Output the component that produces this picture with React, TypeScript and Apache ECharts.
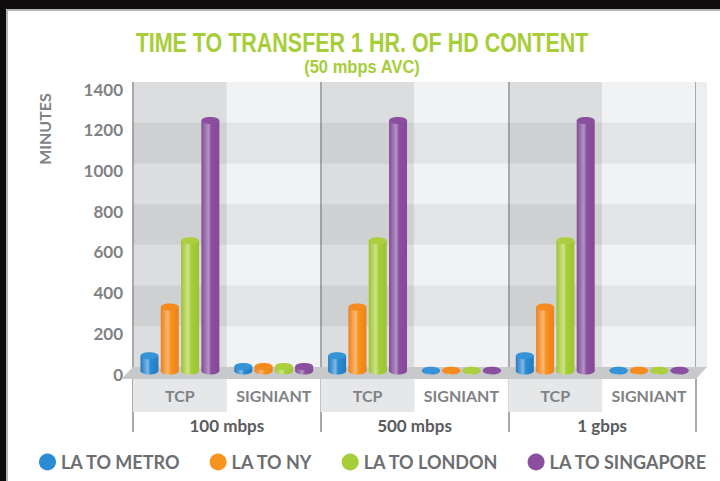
import React, { useEffect, useRef } from "react";
import * as echarts from "echarts";

const groups = ["100 mbps", "500 mbps", "1 gbps"];
const methods = ["TCP", "SIGNIANT"];
const subCategories = groups.flatMap(() => methods);
const yTicks = [0, 200, 400, 600, 800, 1000, 1200, 1400];

const seriesNames = ["LA TO METRO", "LA TO NY", "LA TO LONDON", "LA TO SINGAPORE"];
const laToMetro = [75, 22, 75, 4, 75, 4];
const laToNY = [315, 22, 315, 4, 315, 4];
const laToLondon = [640, 22, 640, 4, 640, 4];
const laToSingapore = [1230, 22, 1230, 4, 1230, 4];
const seriesValues = [laToMetro, laToNY, laToLondon, laToSingapore];

const titleText = "TIME TO TRANSFER 1 HR. OF HD CONTENT";
const subtitleText = "(50 mbps AVC)";
const yAxisTitle = "MINUTES";

const palette = [
  { main: "#2a8dd4", edge: "#2479bf", light: "#7cb9e8", cap: "#3593d8" },
  { main: "#f7941d", edge: "#ef7f1a", light: "#fbb772", cap: "#f58a1f" },
  { main: "#a6ce39", edge: "#9cc431", light: "#cfe38c", cap: "#abcf3e" },
  { main: "#8b4f9f", edge: "#844a98", light: "#b394c4", cap: "#8a4f9e" },
];

const FONT = "Lato, 'Open Sans', sans-serif";
const HELV = "'Liberation Sans', Arial, sans-serif";

export default function App() {
  const ref = useRef<HTMLDivElement>(null);
  useEffect(() => {
    if (!ref.current) return;
    const chart = echarts.init(ref.current, null, { renderer: "svg" });
    const barW = 18;
    const pitch = 20.3;
    const ry = 3.5;
    const dy = 4;
    const series = seriesNames.map((name, sIdx) => {
      const p = palette[sIdx];
      const grad = () =>
        new echarts.graphic.LinearGradient(0, 0, 1, 0, [
          { offset: 0, color: p.edge },
          { offset: 0.4, color: p.light },
          { offset: 0.55, color: p.main },
          { offset: 1, color: p.edge },
        ]);
      return {
        name,
        type: "custom",
        xAxisIndex: 0,
        yAxisIndex: 0,
        z: 3,
        itemStyle: { color: p.main },
        data: seriesValues[sIdx].map((v, i) => [i, v]),
        renderItem: (params: any, api: any) => {
          const cat = api.value(0);
          const v = api.value(1);
          const base = api.coord([cat, 0]);
          const top = api.coord([cat, v]);
          const cx = base[0] + (sIdx - 1.5) * pitch;
          const yb = base[1] + dy;
          const yt = top[1] + dy;
          return {
            type: "group",
            children: [
              { type: "ellipse", shape: { cx, cy: yb, rx: barW / 2, ry }, style: { fill: grad() } },
              { type: "rect", shape: { x: cx - barW / 2, y: yt, width: barW, height: yb - yt }, style: { fill: grad() } },
              { type: "ellipse", shape: { cx, cy: yt, rx: barW / 2, ry }, style: { fill: p.cap } },
            ],
          };
        },
      };
    });

    chart.setOption({
      animation: false,
      backgroundColor: "transparent",
      color: palette.map((p) => p.main),
      grid: { left: 133, right: 24, top: 82, bottom: 114, containLabel: false },
      legend: {
        top: 453,
        left: 39,
        width: 700,
        padding: 0,
        itemGap: 29,
        itemWidth: 17,
        itemHeight: 17,
        icon: "circle",
        textStyle: { fontFamily: FONT, fontWeight: "bold", fontSize: 18, color: "#6d6e71" },
        data: seriesNames,
      },
      xAxis: [
        {
          type: "category",
          data: subCategories,
          position: "bottom",
          axisLine: { show: false },
          axisTick: { show: false },
          splitArea: { show: true, interval: 0, areaStyle: { color: ["#dcdddf", "#f1f2f4"] } },
          axisLabel: {
            interval: 0,
            margin: 12,
            formatter: (v: string) => (v === "TCP" ? `{t|${v}}` : `{s|${v}}`),
            rich: {
              t: {
                backgroundColor: "#e6e7e8",
                width: 94,
                height: 33,
                lineHeight: 33,
                align: "center",
                fontFamily: FONT,
                fontWeight: "bold",
                fontSize: 16,
                color: "#808285",
              },
              s: {
                width: 94,
                height: 33,
                lineHeight: 33,
                align: "center",
                fontFamily: FONT,
                fontWeight: "bold",
                fontSize: 16,
                color: "#808285",
              },
            },
          },
        },
        {
          type: "category",
          data: groups,
          position: "bottom",
          boundaryGap: true,
          axisLine: { show: false },
          axisTick: { show: true, length: 65, lineStyle: { color: "#a7a9ac", width: 2 } },
          splitLine: { show: true, lineStyle: { color: "#a7a9ac", width: 2 } },
          axisLabel: {
            margin: 50,
            fontFamily: FONT,
            fontWeight: "bold",
            fontSize: 17,
            color: "#5a5b5d",
          },
        },
      ],
      yAxis: {
        type: "value",
        min: 0,
        max: 1400,
        interval: 200,
        z: 1,
        axisLine: { show: false },
        axisTick: { show: false },
        splitLine: { show: false },
        splitArea: { show: true, areaStyle: { color: ["rgba(0,0,0,0)", "rgba(0,0,0,0.055)"] } },
        axisLabel: {
          margin: 10,
          verticalAlign: "top",
          lineHeight: 14,
          fontFamily: FONT,
          fontWeight: "bold",
          fontSize: 17,
          color: "#808285",
          formatter: (v: number) => (yTicks.includes(v) ? String(v) : ""),
        },
      },
      graphic: [
        {
          type: "rect",
          z: 1,
          shape: { x: 696, y: 82, width: 11, height: 286 },
          style: { fill: "#eceef0" },
        },
        {
          type: "polygon",
          z: 2,
          shape: { points: [[133, 367], [707, 367], [696, 379], [121, 379]] },
          style: { fill: "#c8c9cb" },
        },
        {
          type: "text",
          z: 2,
          x: 362,
          y: 42,
          scaleX: 0.767,
          style: {
            text: titleText,
            align: "center",
            verticalAlign: "middle",
            fontFamily: HELV,
            fontWeight: "bold",
            fontSize: 28,
            fill: "#a6ce39",
          },
        },
        {
          type: "text",
          z: 2,
          x: 362,
          y: 67,
          scaleX: 0.87,
          style: {
            text: subtitleText,
            align: "center",
            verticalAlign: "middle",
            fontFamily: HELV,
            fontWeight: "bold",
            fontSize: 19,
            fill: "#a6ce39",
          },
        },
        {
          type: "text",
          z: 2,
          x: 44,
          y: 129,
          rotation: Math.PI / 2,
          style: {
            text: yAxisTitle,
            align: "center",
            verticalAlign: "middle",
            fontFamily: FONT,
            fontWeight: "bold",
            fontSize: 16,
            fill: "#808285",
          },
        },
      ],
      series,
    });
    return () => chart.dispose();
  }, []);

  return (
    <div style={{ position: "absolute", left: 0, top: 0, width: 720, height: 481, background: "#0f0b0c", overflow: "hidden" }}>
      <div
        style={{
          position: "absolute",
          left: 6,
          top: 9,
          width: 714,
          height: 472,
          background: "#ffffff",
          borderTop: "2px solid #b3b5b8",
          borderLeft: "2px solid #b3b5b8",
          boxSizing: "border-box",
        }}
      />
      <div ref={ref} style={{ position: "absolute", left: 0, top: 0, width: 720, height: 481 }} />
    </div>
  );
}
